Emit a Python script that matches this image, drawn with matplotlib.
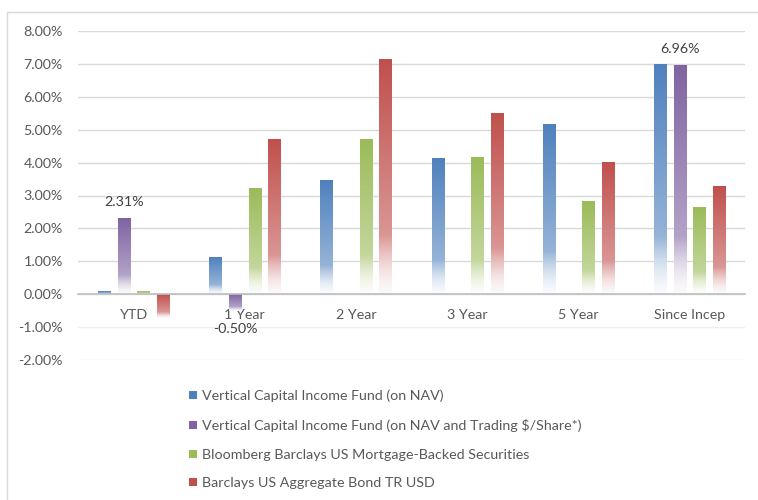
import numpy as np
import matplotlib
matplotlib.use("Agg")
import matplotlib.pyplot as plt
from matplotlib.colors import to_rgb
from matplotlib.patches import Rectangle, Patch

plt.rcParams['font.family'] = ['Lato', 'DejaVu Sans']

categories = ["YTD", "1 Year", "2 Year", "3 Year", "5 Year", "Since Incep"]
series_names = [
    "Vertical Capital Income Fund (on NAV)",
    "Vertical Capital Income Fund (on NAV and Trading $/Share*)",
    "Bloomberg Barclays US Mortgage-Backed Securities",
    "Barclays US Aggregate Bond TR USD",
]
nav = [0.07, 1.10, 3.46, 4.12, 5.15, 6.99]
nav_share = [2.31, -0.50, np.nan, np.nan, np.nan, 6.96]
mbs = [0.07, 3.21, 4.70, 4.15, 2.80, 2.64]
agg = [-0.71, 4.71, 7.13, 5.48, 3.99, 3.28]
colors = ["#4F81BD", "#8064A2", "#9BBB59", "#C0504D"]
yticks = [-2, -1, 0, 1, 2, 3, 4, 5, 6, 7, 8]

series = [nav, nav_share, mbs, agg]
W, H = 758, 500
fig = plt.figure(figsize=(W / 100, H / 100), dpi=100)
ax = fig.add_axes([78 / W, 1 - 360 / H, (745 - 78) / W, (360 - 31) / H])

text_col = "#595959"
fs = 10.3
x = np.arange(len(categories))
step = 0.177
width = 0.108


def gradient_img(color):
    t = np.linspace(0, 1, 256)
    a = np.where(t >= 0.25, 0.6 + 0.4 * (t - 0.25) / 0.75,
                 0.04 + 0.56 * (t / 0.25) ** 1.6)
    rgb = np.array(to_rgb(color))
    img = 1 - a[:, None] * (1 - rgb[None, :])
    return img[:, None, :]


for i, (vals, c) in enumerate(zip(series, colors)):
    vals = np.array(vals, dtype=float)
    mask = ~np.isnan(vals)
    bars = ax.bar(x[mask] + (i - 1.5) * step, vals[mask], width=width,
                  color="none", edgecolor="none", zorder=3)
    img = gradient_img(c)
    for b in bars:
        x0, y0 = b.get_x(), b.get_y()
        w, h = b.get_width(), b.get_height()
        ylo, yhi = min(y0, y0 + h), max(y0, y0 + h)
        ax.imshow(img, extent=(x0, x0 + w, ylo, yhi), origin="lower",
                  aspect="auto", interpolation="bilinear", zorder=3)

# data labels on the purple series
for xi, v in zip(x, nav_share):
    if v in (2.31, -0.50, 6.96):
        xp = xi + (1 - 1.5) * step
        off = 12 if v > 0 else -13
        ax.annotate(f"{v:.2f}%", (xp, v), xytext=(0, off), textcoords="offset points",
                    ha="center", va="center", fontsize=fs, color="#404040", zorder=5)

ax.set_xlim(-0.5, len(categories) - 0.5)
ax.set_ylim(-2, 8)
ax.set_yticks(yticks)
ax.set_yticklabels([f"{t:.2f}%" for t in yticks])
ax.set_xticks(x)
ax.set_xticklabels(categories)
ax.spines['bottom'].set_position(('data', 0))
ax.spines['bottom'].set_color("#BFBFBF")
ax.spines['bottom'].set_linewidth(1.2)
ax.spines['bottom'].set_zorder(4)
for s in ['top', 'right', 'left']:
    ax.spines[s].set_visible(False)
ax.tick_params(axis='both', length=0, labelsize=fs, labelcolor=text_col)
ax.tick_params(axis='y', pad=11)
ax.tick_params(axis='x', pad=10.5)
ax.yaxis.grid(True, color="#D9D9D9", linewidth=1.0, zorder=0)
ax.set_axisbelow(True)
for t, gl in zip(yticks, ax.yaxis.get_gridlines()):
    if t < 0:
        gl.set_color("#EFEFEF")

handles = [Patch(facecolor=c, edgecolor="none") for c in colors]
fig.legend(handles, series_names, loc="upper left", bbox_to_anchor=(183 / W, 1 - 384 / H),
           frameon=False, fontsize=fs, labelcolor=text_col, handlelength=0.6,
           handleheight=0.5, handletextpad=0.35, labelspacing=1.17, borderaxespad=0)

fig.patches.append(Rectangle((7 / W, -0.1), 1.2, (1 - 12 / H) + 0.1, transform=fig.transFigure,
                             fill=False, edgecolor="#D9D9D9", linewidth=1.0))

fig.savefig("out.png", dpi=100, facecolor="white")
